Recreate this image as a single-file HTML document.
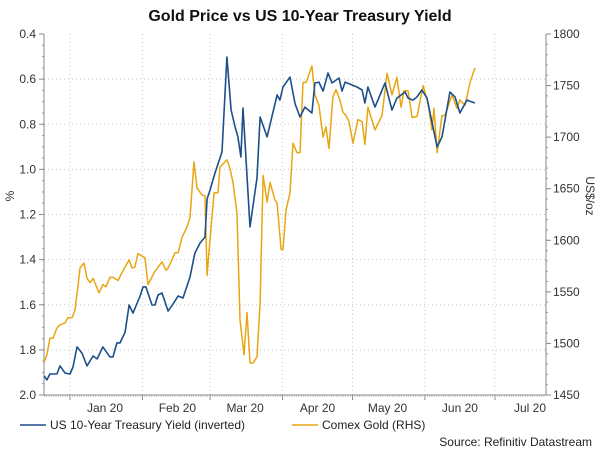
<!DOCTYPE html>
<html><head><meta charset="utf-8"><style>
html,body{margin:0;padding:0;background:#fff;}
body{width:600px;height:453px;overflow:hidden;font-family:"Liberation Sans",Arial,sans-serif;}
svg text{font-family:"Liberation Sans",Arial,sans-serif;}
</style></head><body>
<svg id="chart" width="600" height="453" xmlns="http://www.w3.org/2000/svg">
<text x="300" y="21" text-anchor="middle" font-size="16" font-weight="bold" fill="#111">Gold Price vs US 10-Year Treasury Yield</text>
<g id="grid"></g><g id="axes"></g><g id="series"></g>
<text transform="translate(14,196) rotate(-90)" text-anchor="middle" font-size="12" fill="#333">%</text>
<text transform="translate(586,196) rotate(90)" text-anchor="middle" font-size="12" fill="#333">US$/oz</text>
<g>
<line x1="20" y1="425" x2="46" y2="425" stroke="#1d4f8a" stroke-width="1.5"/>
<text x="50" y="429" font-size="12" fill="#222">US 10-Year Treasury Yield (inverted)</text>
<line x1="292" y1="425" x2="318" y2="425" stroke="#e8a612" stroke-width="1.5"/>
<text x="322" y="429" font-size="12" fill="#222">Comex Gold (RHS)</text>
</g>
<text x="592" y="446" text-anchor="end" font-size="12" fill="#222">Source: Refinitiv Datastream</text>
</svg>
<script>
// days relative to 2020-01-01
const monthLabels = ["Jan 20","Feb 20","Mar 20","Apr 20","May 20","Jun 20","Jul 20"];
const monthStarts = [0,31,60,91,121,152,182];
const leftTicks = [0.4,0.6,0.8,1.0,1.2,1.4,1.6,1.8,2.0];
const rightTicks = [1800,1750,1700,1650,1600,1550,1500,1450];
const yieldDays = [-11.1,-9.9,-8.6,-5.6,-4.3,-2.1,0,1.3,3.0,5.1,7.3,9.9,11.6,14.1,17.1,18.4,20.1,21.4,23.6,25.3,27.0,30.0,31.3,32.5,35.1,36.4,37.7,39.4,42.0,44.1,46.3,48.4,51.4,53.5,55.7,57.8,58.7,60.0,62.1,63.4,65.1,67.2,69.0,70.7,71.9,73.2,74.1,77.1,80.1,81.4,84.4,88.7,89.9,91.2,94.2,96.4,98.5,100.6,103.6,104.9,106.6,108.4,110.5,112.2,115.2,116.5,117.8,122.9,125.1,126.3,127.6,130.6,134.9,137.9,140.0,143.5,144.8,146.9,148.6,150.7,152.9,157.2,159.3,162.7,164.9,167.0,170.0,173.4];
const yieldVals = [1.916,1.933,1.907,1.907,1.871,1.903,1.907,1.876,1.787,1.814,1.871,1.827,1.840,1.787,1.831,1.831,1.769,1.769,1.721,1.601,1.637,1.561,1.521,1.521,1.601,1.601,1.557,1.548,1.628,1.597,1.561,1.570,1.477,1.371,1.326,1.300,1.131,1.091,1.016,0.976,0.923,0.502,0.737,0.812,0.856,0.945,0.728,1.255,1.038,0.768,0.856,0.670,0.693,0.635,0.591,0.71,0.768,0.724,0.750,0.617,0.613,0.653,0.573,0.617,0.595,0.653,0.613,0.635,0.648,0.706,0.635,0.724,0.617,0.737,0.684,0.657,0.684,0.693,0.679,0.648,0.684,0.901,0.856,0.657,0.679,0.750,0.693,0.706];
const goldDays = [-11.1,-9.9,-8.6,-7.3,-5.6,-4.3,-2.1,-0.9,0.9,2.1,3.4,4.3,6.0,7.3,8.6,9.9,12.4,14.1,15.4,17.1,18.4,20.6,22.3,25.3,26.6,27.8,29.1,32.1,33.4,36.4,39.4,41.1,42.0,45.0,46.3,48.0,50.1,51.4,53.1,54.4,56.5,57.8,58.7,59.5,61.7,63.4,64.2,67.2,68.5,69.8,71.5,72.8,74.5,75.8,77.1,78.4,80.1,81.4,82.7,84.4,85.7,87.8,88.7,90.4,91.2,92.5,94.2,95.5,97.2,98.5,99.8,101.1,103.6,104.9,106.6,108.4,109.6,110.9,112.6,113.9,115.6,116.9,118.2,119.5,121.2,123.3,125.1,126.3,127.6,130.6,133.6,135.8,137.9,140.0,141.8,143.0,144.8,146.5,148.6,151.2,153.3,155.0,155.9,157.2,159.3,160.6,163.6,165.7,167.0,169.2,171.3,173.4];
const goldVals = [1482,1489,1505,1505,1515,1518,1520,1525,1525,1532,1555,1573,1578,1563,1559,1563,1549,1557,1555,1564,1564,1561,1569,1581,1573,1574,1587,1583,1557,1570,1579,1571,1573,1588,1588,1603,1613,1622,1676,1651,1644,1643,1566,1588,1646,1646,1671,1678,1670,1656,1626,1523,1489,1530,1481,1481,1487,1539,1663,1637,1656,1639,1636,1591,1591,1629,1646,1694,1685,1685,1753,1753,1769,1741,1731,1700,1710,1689,1739,1746,1736,1724,1721,1715,1694,1717,1715,1693,1729,1707,1721,1762,1741,1758,1729,1745,1745,1719,1720,1750,1733,1707,1728,1685,1721,1721,1741,1728,1736,1731,1753,1767];

const NS="http://www.w3.org/2000/svg";
const L=44,R=546,T=34,B=395;
const xS=d=>70+d*2.335;
const yL=v=>T+(v-0.4)/1.6*(B-T);
const yR=v=>T+(1800-v)/350*(B-T);
function mk(tag,attrs,parent){const e=document.createElementNS(NS,tag);for(const k in attrs)e.setAttribute(k,attrs[k]);parent.appendChild(e);return e;}
const grid=document.getElementById('grid'),axes=document.getElementById('axes'),series=document.getElementById('series');
leftTicks.forEach(v=>{
  const y=yL(v);
  if(v>0.4&&v<2.0){const g=mk('line',{x1:L,x2:R,y1:y,y2:y,stroke:'#c8c8c8','stroke-dasharray':'1,3'},grid);
  
  }
  mk('line',{x1:L-5,x2:L,y1:y,y2:y,stroke:'#888'},axes);
  const t=mk('text',{x:L-8,y:y+4,'text-anchor':'end','font-size':12,fill:'#333'},axes);t.textContent=v.toFixed(1);
  
  
});
for(let v=0.45;v<2.0;v+=0.05){mk('line',{x1:L-2,x2:L,y1:yL(v),y2:yL(v),stroke:'#999'},axes);}
rightTicks.forEach(v=>{
  const y=yR(v);
  mk('line',{x1:R,x2:R+5,y1:y,y2:y,stroke:'#888'},axes);
  const t=mk('text',{x:R+7,y:y+4,'font-size':12,fill:'#333'},axes);t.textContent=v;
  
  
});
for(let v=1460;v<1800;v+=10){mk('line',{x1:R,x2:R+2,y1:yR(v),y2:yR(v),stroke:'#999'},axes);}
monthStarts.forEach((d,i)=>{
  const x=xS(d);
  const g=mk('line',{x1:x,x2:x,y1:T,y2:B,stroke:'#c8c8c8','stroke-dasharray':'1,3'},grid);
  
  
  mk('line',{x1:x,x2:x,y1:B,y2:B+5,stroke:'#888'},axes);
  const t=mk('text',{x:xS(d+15),y:B+17,'text-anchor':'middle','font-size':12,fill:'#333'},axes);t.textContent=monthLabels[i];
  
  
});
for(let d=-11;d<=203;d++){mk('line',{x1:xS(d),x2:xS(d),y1:B,y2:B+2,stroke:'#aaa','stroke-width':0.6},axes);}
const ax=mk('path',{d:`M${L},${T}V${B}H${R}V${T}`,fill:'none',stroke:'#888'},axes);


const gp=mk('polyline',{points:goldDays.map((d,i)=>xS(d).toFixed(1)+','+yR(goldVals[i]).toFixed(1)).join(' '),fill:'none',stroke:'#e8a612','stroke-width':1.5,'stroke-linejoin':'round'},series);


const yp=mk('polyline',{points:yieldDays.map((d,i)=>xS(d).toFixed(1)+','+yL(yieldVals[i]).toFixed(1)).join(' '),fill:'none',stroke:'#1d4f8a','stroke-width':1.6,'stroke-linejoin':'round'},series);


</script>
</body></html>
